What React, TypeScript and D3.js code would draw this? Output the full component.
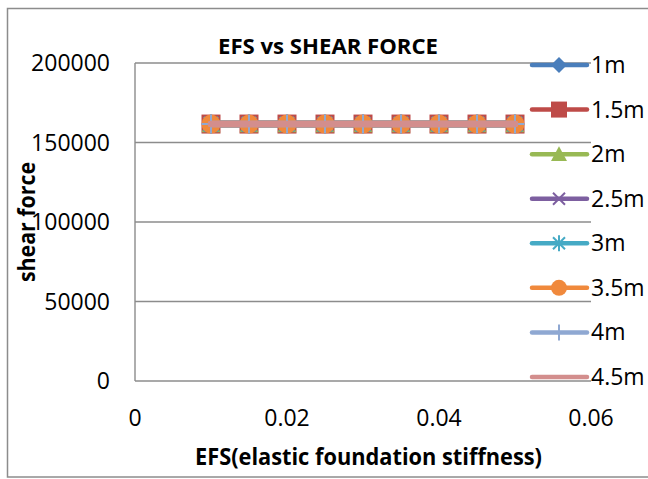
import React from 'react';
import * as d3 from 'd3';

const efsValues = [0.01, 0.015, 0.02, 0.025, 0.03, 0.035, 0.04, 0.045, 0.05];
const seriesNames = ['1m', '1.5m', '2m', '2.5m', '3m', '3.5m', '4m', '4.5m'];
const shear1m = [161600, 161600, 161600, 161600, 161600, 161600, 161600, 161600, 161600];
const shear15m = [161600, 161600, 161600, 161600, 161600, 161600, 161600, 161600, 161600];
const shear2m = [161600, 161600, 161600, 161600, 161600, 161600, 161600, 161600, 161600];
const shear25m = [161600, 161600, 161600, 161600, 161600, 161600, 161600, 161600, 161600];
const shear3m = [161600, 161600, 161600, 161600, 161600, 161600, 161600, 161600, 161600];
const shear35m = [161600, 161600, 161600, 161600, 161600, 161600, 161600, 161600, 161600];
const shear4m = [161600, 161600, 161600, 161600, 161600, 161600, 161600, 161600, 161600];
const shear45m = [161600, 161600, 161600, 161600, 161600, 161600, 161600, 161600, 161600];
const seriesValues = [shear1m, shear15m, shear2m, shear25m, shear3m, shear35m, shear4m, shear45m];
const yTicks = [0, 50000, 100000, 150000, 200000];
const xTicks = [0, 0.02, 0.04, 0.06];
const xTickLabels = ['0', '0.02', '0.04', '0.06'];
const yTickLabels = ['0', '50000', '100000', '150000', '200000'];

const colors = ['#4A7EBB', '#BE4B48', '#98B954', '#7D5FA0', '#46AAC5', '#F0893C', '#8FA8D2', '#D38E8D'];
const markerTypes = ['diamond', 'square', 'triangle', 'x', 'star', 'circle', 'plus', 'none'];

const FONT = "'Open Sans', sans-serif";

function Marker({ type, cx, cy, color, s }: { type: string; cx: number; cy: number; color: string; s: number }) {
  const t = `translate(${cx},${cy})`;
  switch (type) {
    case 'diamond':
      return <path transform={t} d={`M0,${-s} L${s},0 L0,${s} L${-s},0Z`} fill={color} />;
    case 'square':
      return <rect transform={t} x={-s} y={-s} width={2 * s} height={2 * s} fill={color} />;
    case 'triangle':
      return <path transform={t} d={`M0,${-s} L${s},${s * 0.85} L${-s},${s * 0.85}Z`} fill={color} />;
    case 'x': {
      const a = s * 0.75;
      return <path transform={t} d={`M${-a},${-a}L${a},${a}M${a},${-a}L${-a},${a}`} stroke={color} strokeWidth={2} fill="none" />;
    }
    case 'star': {
      const a = s * 0.75;
      return <path transform={t} d={`M${-a},${-a}L${a},${a}M${a},${-a}L${-a},${a}M0,${-s}L0,${s}`} stroke={color} strokeWidth={2} fill="none" />;
    }
    case 'circle':
      return <circle cx={cx} cy={cy} r={s} fill={color} />;
    case 'plus':
      return <path transform={t} d={`M${-s},0L${s},0M0,${-s}L0,${s}`} stroke={color} strokeWidth={2} fill="none" />;
    default:
      return null;
  }
}

export default function App() {
  const W = 648;
  const H = 479;
  const x = d3.scaleLinear().domain([0, 0.06]).range([135, 591]);
  const y = d3.scaleLinear().domain([0, 200000]).range([381, 63]);
  const line = d3
    .line<number>()
    .x((_, i) => x(efsValues[i]))
    .y((d) => y(d));

  const legendY = d3.scaleLinear().domain([0, seriesNames.length - 1]).range([65, 377]);

  return (
    <svg width={W} height={H} style={{ position: 'absolute', left: 0, top: 0, background: '#fff' }} fontFamily={FONT}>
      <rect x={0} y={0} width={W} height={H} fill="#fff" />
      <rect x={7.5} y={8.5} width={W + 10} height={468.5} fill="none" stroke="#8c8c8c" strokeWidth={1.5} />

      {/* gridlines */}
      {yTicks.map((t) => (
        <line key={t} x1={x(0)} x2={x(0.06)} y1={y(t)} y2={y(t)} stroke="#8c8c8c" strokeWidth={1.4} />
      ))}
      <line x1={x(0)} x2={x(0)} y1={y(0)} y2={y(200000)} stroke="#8c8c8c" strokeWidth={1.4} />

      {/* y tick labels */}
      {yTicks.map((t, i) => (
        <text key={t} x={110} y={y(t)} dy="0.35em" textAnchor="end" fontSize={23} fill="#000">
          {yTickLabels[i]}
        </text>
      ))}
      {/* x tick labels */}
      {xTicks.map((t, i) => (
        <text key={t} x={x(t)} y={418} dy="0.35em" textAnchor="middle" fontSize={23} fill="#000">
          {xTickLabels[i]}
        </text>
      ))}

      {/* series */}
      {seriesValues.map((vals, si) => (
        <g key={seriesNames[si]}>
          <path d={line(vals) || ''} fill="none" stroke={colors[si]} strokeWidth={6.5} strokeLinecap="round" strokeLinejoin="round" />
          {vals.map((v, i) => (
            <Marker key={i} type={markerTypes[si]} cx={x(efsValues[i])} cy={y(v)} color={colors[si]} s={9.5} />
          ))}
        </g>
      ))}

      {/* title */}
      <text x={328} y={54} textAnchor="middle" fontSize={22} fontWeight={700} textLength={220} lengthAdjust="spacingAndGlyphs">
        EFS vs SHEAR FORCE
      </text>
      {/* x title */}
      <text x={368.5} y={465} textAnchor="middle" fontSize={23} fontWeight={700} textLength={347} lengthAdjust="spacingAndGlyphs">
        EFS(elastic foundation stiffness)
      </text>
      {/* y title */}
      <text transform={`translate(35,222) rotate(-90)`} textAnchor="middle" fontSize={23} fontWeight={700} textLength={120} lengthAdjust="spacingAndGlyphs">
        shear force
      </text>

      {/* legend */}
      {seriesNames.map((name, si) => {
        const ly = legendY(si);
        return (
          <g key={name}>
            <line x1={532} x2={587} y1={ly} y2={ly} stroke={colors[si]} strokeWidth={4.5} strokeLinecap="round" />
            <Marker type={markerTypes[si]} cx={559} cy={ly} color={colors[si]} s={8} />
            <text x={591} y={ly} dy="0.35em" fontSize={23} fill="#000">
              {name}
            </text>
          </g>
        );
      })}
    </svg>
  );
}
